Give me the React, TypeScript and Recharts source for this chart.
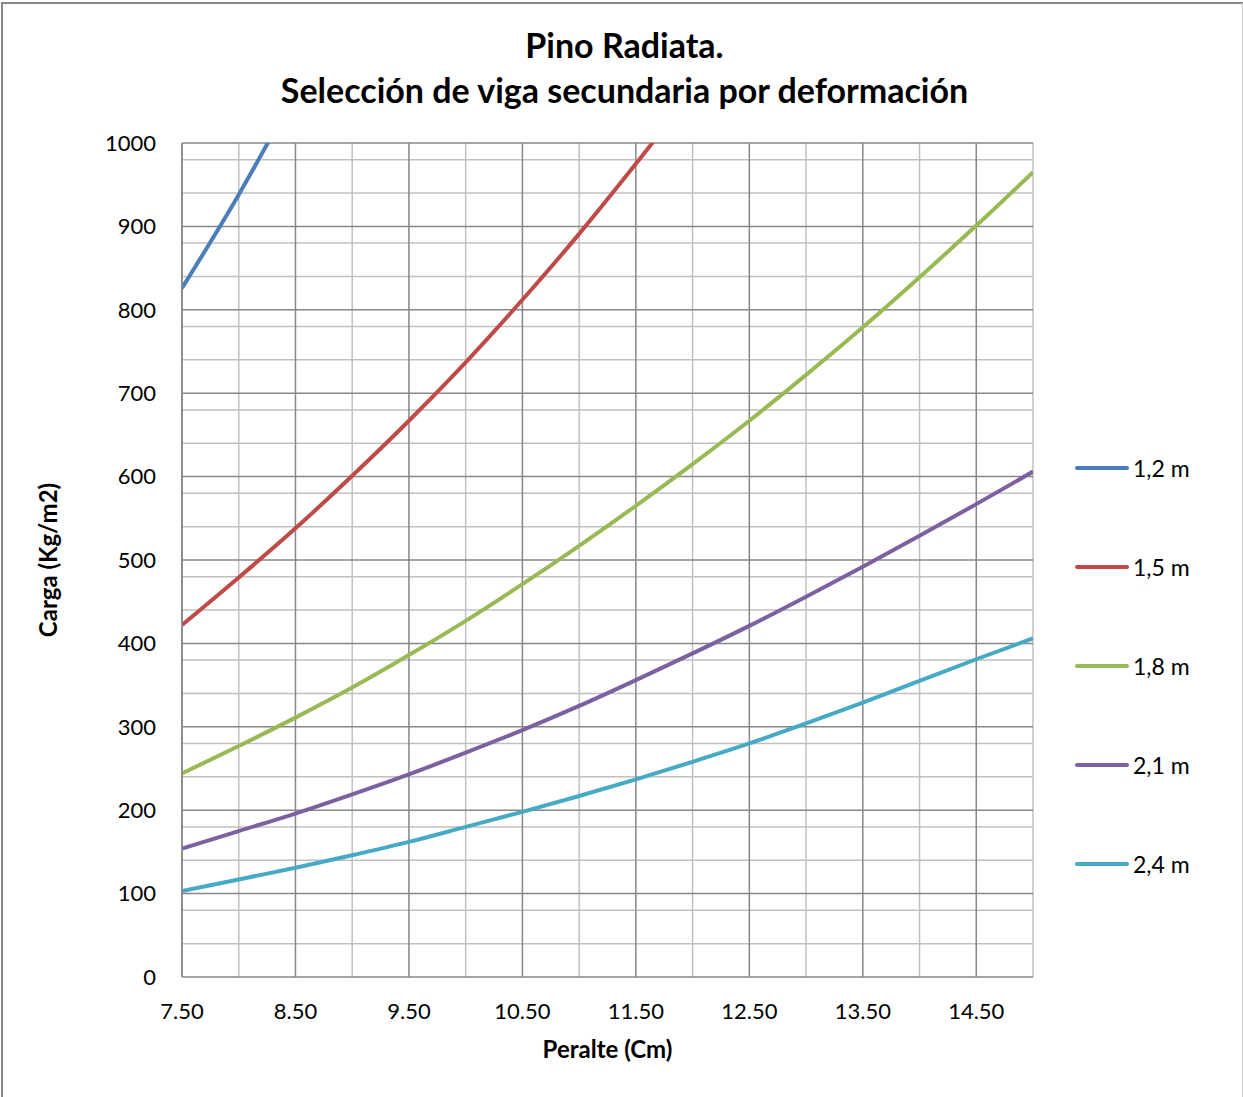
import React from 'react';
import { LineChart, Line, XAxis, YAxis, CartesianGrid, Label } from 'recharts';

const peralte = [7.5, 8.0, 8.5, 9.0, 9.5, 10.0, 10.5, 11.0, 11.5, 12.0, 12.5, 13.0, 13.5, 14.0, 14.5, 15.0];
const s12 = [826, 938, 1061, null, null, null, null, null, null, null, null, null, null, null, null, null];
const s15 = [422, 479, 538, 601, 667, 737, 812, 891, 975, 1062, null, null, null, null, null, null];
const s18 = [244, 277, 311, 347, 386, 427, 471, 517, 565, 615, 667, 722, 779, 839, 901, 965];
const s21 = [154, 175, 196, 219, 243, 269, 296, 325, 356, 388, 421, 456, 492, 529, 567, 606];
const s24 = [103, 117, 131, 146, 162, 180, 198, 217, 237, 258, 280, 304, 329, 355, 381, 406];

const seriesNames = ['1,2 m', '1,5 m', '1,8 m', '2,1 m', '2,4 m'];
const seriesKeys = ['s12', 's15', 's18', 's21', 's24'];
const seriesColors = ['#4a7ebb', '#be4b48', '#98b954', '#7d60a0', '#46aac5'];

const xTicks = [7.5, 8.5, 9.5, 10.5, 11.5, 12.5, 13.5, 14.5];
const yTicks = [0, 100, 200, 300, 400, 500, 600, 700, 800, 900, 1000];
const xMinorGrid = [8, 9, 10, 11, 12, 13, 14, 15];
const xMajorGrid = [7.5, 8.5, 9.5, 10.5, 11.5, 12.5, 13.5, 14.5];
const yMinorGrid = [20, 40, 60, 80, 120, 140, 160, 180, 220, 240, 260, 280, 320, 340, 360, 380, 420, 440, 460, 480, 520, 540, 560, 580, 620, 640, 660, 680, 720, 740, 760, 780, 820, 840, 860, 880, 920, 940, 960, 980];
const yMajorGrid = [100, 200, 300, 400, 500, 600, 700, 800, 900, 1000];

const data = peralte.map((p, i) => ({
  peralte: p,
  s12: s12[i],
  s15: s15[i],
  s18: s18[i],
  s21: s21[i],
  s24: s24[i],
}));

const FONT = 'Lato, "Open Sans", sans-serif';

const ChartLegend = () => (
  <div style={{ position: 'absolute', left: 1075, top: 418, width: 160, fontFamily: FONT, fontSize: 23, color: '#000' }}>
    {seriesNames.map((n, i) => (
      <div key={n} style={{ display: 'flex', alignItems: 'center', height: 99 }}>
        <div style={{ width: 54, height: 4, borderRadius: 2, background: seriesColors[i], marginRight: 4 }} />
        <span>{n}</span>
      </div>
    ))}
  </div>
);

export default function App() {
  return (
    <div style={{ position: 'absolute', left: 0, top: 0, width: 1243, height: 1097, background: '#fff', fontFamily: FONT, overflow: 'hidden' }}>
      <div style={{ position: 'absolute', left: 1, top: 2, width: 1239, height: 1100, borderLeft: '2px solid #888', borderTop: '2px solid #888', borderRight: '1px solid #ccc' }} />
      <div style={{ position: 'absolute', left: 0, top: 22, width: 1249, textAlign: 'center', fontWeight: 700, fontSize: 34, lineHeight: '45px', color: '#000' }}>
        <div>Pino Radiata.</div>
        <div>Selección de viga secundaria por deformación</div>
      </div>
      <div style={{ position: 'absolute', left: 0, top: 0 }}>
        <LineChart width={1243} height={1097} data={data} margin={{ top: 143, right: 210, bottom: 0, left: 0 }}>
          <CartesianGrid horizontal={false} vertical={true} verticalValues={xMinorGrid} stroke="#c0c0c0" strokeWidth={1.5} />
          <CartesianGrid horizontal={true} vertical={false} horizontalValues={yMinorGrid} stroke="#c0c0c0" strokeWidth={1.5} />
          <CartesianGrid horizontal={false} vertical={true} verticalValues={xMajorGrid} stroke="#878787" strokeWidth={1.5} />
          <CartesianGrid horizontal={true} vertical={false} horizontalValues={yMajorGrid} stroke="#878787" strokeWidth={1.5} />
          <XAxis
            dataKey="peralte"
            type="number"
            domain={[7.5, 15]}
            ticks={xTicks}
            tickFormatter={(v: number) => v.toFixed(2)}
            tickLine={false}
            axisLine={{ stroke: '#878787', strokeWidth: 1.5 }}
            tick={{ fill: '#000', fontSize: 22, fontFamily: FONT }}
            tickMargin={20}
            height={120}
            allowDataOverflow
          >
            <Label value="Peralte (Cm)" position="insideTop" offset={64} style={{ fontWeight: 700, fontSize: 24, fill: '#000', fontFamily: FONT }} />
          </XAxis>
          <YAxis
            type="number"
            domain={[0, 1000]}
            ticks={yTicks}
            tickLine={false}
            axisLine={{ stroke: '#878787', strokeWidth: 1.5 }}
            tick={{ fill: '#000', fontSize: 22, fontFamily: FONT }}
            tickMargin={20}
            width={182}
            allowDataOverflow
          >
            <Label value="Carga (Kg/m2)" angle={-90} position="insideLeft" offset={48} style={{ fontWeight: 700, fontSize: 24, fill: '#000', fontFamily: FONT, textAnchor: 'middle' }} />
          </YAxis>
          {seriesKeys.map((k, i) => (
            <Line
              key={k}
              dataKey={k}
              name={seriesNames[i]}
              type="monotone"
              stroke={seriesColors[i]}
              strokeWidth={4}
              dot={false}
              activeDot={false}
              isAnimationActive={false}
              connectNulls={false}
            />
          ))}
        </LineChart>
      </div>
      <ChartLegend />
    </div>
  );
}
